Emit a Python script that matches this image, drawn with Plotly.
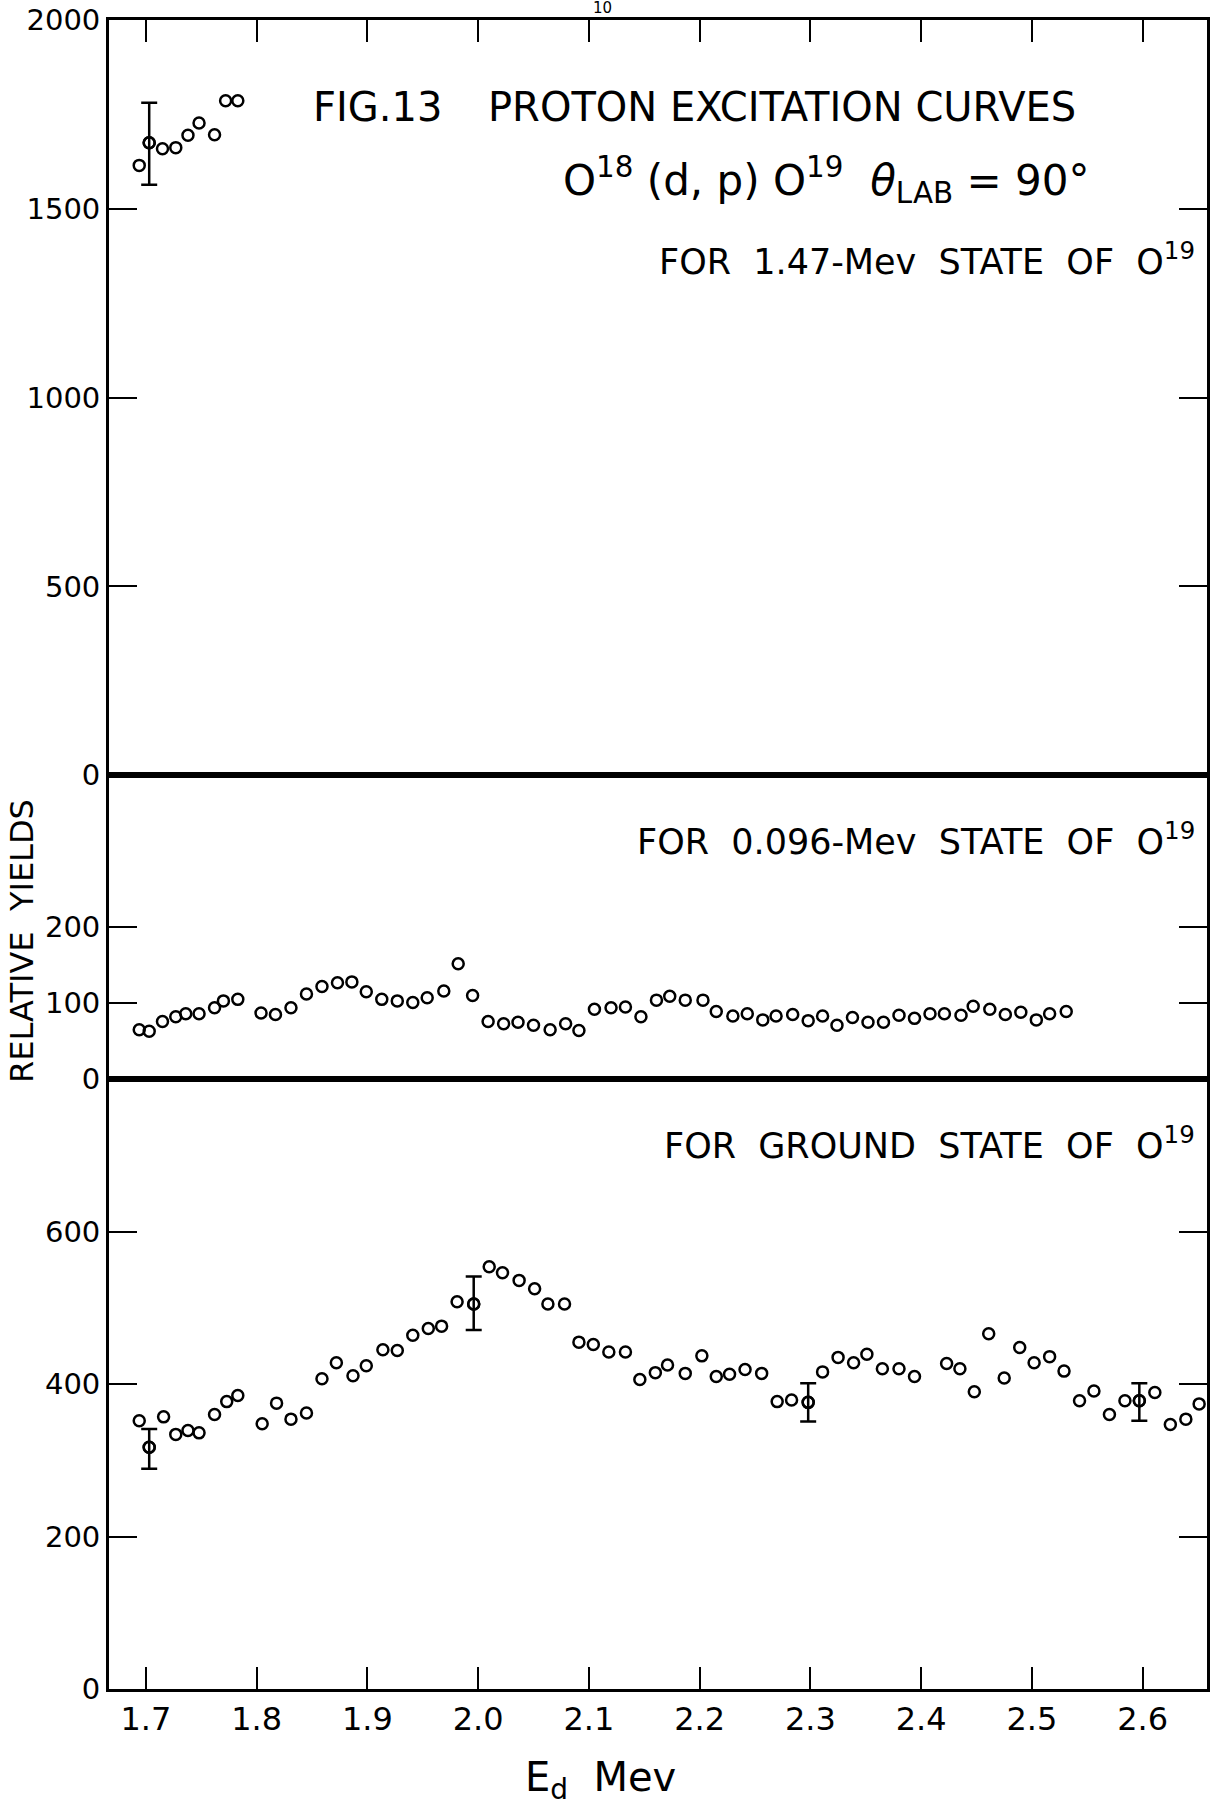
import plotly.graph_objects as go

# ---------------- data ----------------
# Ed in MeV, relative yields
E_147 = [1.694, 1.703, 1.715, 1.727, 1.738, 1.748, 1.762, 1.772, 1.783]
Y_147 = [1615, 1675, 1659, 1662, 1695, 1727, 1696, 1786, 1786]
ERR_E_147 = [1.703]
ERR_Y_147 = [1675]
ERR_HI_147 = [106]
ERR_LO_147 = [111]

E_096 = [1.694, 1.703, 1.715, 1.727, 1.736, 1.748, 1.762, 1.770, 1.783,
         1.804, 1.817, 1.831, 1.845, 1.859, 1.873, 1.886, 1.899, 1.913,
         1.927, 1.941, 1.954, 1.969, 1.982, 1.995, 2.009, 2.023, 2.036,
         2.050, 2.065, 2.079, 2.091, 2.105, 2.120, 2.133, 2.147, 2.161,
         2.173, 2.187, 2.203, 2.215, 2.230, 2.243, 2.257, 2.269, 2.284,
         2.298, 2.311, 2.324, 2.338, 2.352, 2.366, 2.380, 2.394, 2.408,
         2.421, 2.436, 2.447, 2.462, 2.476, 2.490, 2.504, 2.516, 2.531]
Y_096 = [65, 63, 76, 82, 86, 86, 94, 103, 105,
         87, 85, 94, 112, 122, 127, 128, 115, 105,
         103, 101, 107, 116, 152, 110, 76, 73, 75,
         71, 65, 73, 64, 92, 94, 95, 82, 104,
         109, 104, 104, 89, 83, 86, 78, 83, 85,
         77, 83, 71, 81, 75, 75, 84, 80, 86,
         86, 84, 96, 92, 85, 88, 78, 86, 89]

E_GS = [1.694, 1.703, 1.716, 1.727, 1.738, 1.748, 1.762, 1.773, 1.783,
        1.805, 1.818, 1.831, 1.845, 1.859, 1.872, 1.887, 1.899, 1.914,
        1.927, 1.941, 1.955, 1.967, 1.981, 1.996, 2.010, 2.022, 2.037,
        2.051, 2.063, 2.078, 2.091, 2.104, 2.118, 2.133, 2.146, 2.160,
        2.171, 2.187, 2.202, 2.215, 2.227, 2.241, 2.256, 2.270, 2.283,
        2.298, 2.311, 2.325, 2.339, 2.351, 2.365, 2.380, 2.394, 2.423,
        2.435, 2.448, 2.461, 2.475, 2.489, 2.502, 2.516, 2.529, 2.543,
        2.556, 2.570, 2.584, 2.597, 2.611, 2.625, 2.639, 2.651]
Y_GS = [352, 317, 357, 334, 339, 336, 360, 377, 385,
        348, 375, 354, 362, 407, 428, 411, 424, 445,
        444, 464, 473, 476, 508, 505, 554, 546, 536,
        525, 505, 505, 455, 452, 442, 442, 406, 415,
        425, 414, 437, 410, 413, 419, 414, 377, 379,
        376, 416, 435, 428, 439, 420, 420, 410, 427,
        420, 390, 466, 408, 448, 428, 436, 417, 378,
        391, 360, 378, 378, 389, 347, 354, 374]
ERR_E_GS = [1.703, 1.996, 2.298, 2.597]
ERR_Y_GS = [317, 505, 376, 378]
ERR_HI_GS = [24, 36, 25, 23]
ERR_LO_GS = [28, 34, 25, 26]

X_TICKS = [1.7, 1.8, 1.9, 2.0, 2.1, 2.2, 2.3, 2.4, 2.5, 2.6]
X_TICK_TEXT = ["1.7", "1.8", "1.9", "2.0", "2.1", "2.2", "2.3", "2.4", "2.5", "2.6"]
Y_TICKS_147 = [0, 500, 1000, 1500, 2000]
Y_TICKS_096 = [0, 100, 200]
Y_TICKS_GS = [0, 200, 400, 600]

# ---------------- layout geometry ----------------
W, H = 1212, 1806
L, R, T, B = 108.5, 1210.0, 19.6, 1689.0
X_RANGE = [1.6667, 2.6581]
Y_SPLIT1 = 775.0   # top / middle divider (px)
Y_SPLIT2 = 1079.0  # middle / bottom divider (px)


def px(x):
    return (x - L) / (R - L)


def py(y):
    return (B - y) / (B - T)


FONT = "DejaVu Sans"
INK = "black"

marker = dict(symbol="circle-open", size=11, color=INK, line=dict(width=2.5, color=INK))

fig = go.Figure()

fig.add_trace(go.Scatter(x=E_147, y=Y_147, mode="markers", marker=marker,
                         xaxis="x", yaxis="y", showlegend=False))
fig.add_trace(go.Scatter(x=ERR_E_147, y=ERR_Y_147, mode="markers", marker=marker,
                         error_y=dict(type="data", symmetric=False, array=ERR_HI_147,
                                      arrayminus=ERR_LO_147, color=INK, thickness=2.5, width=8),
                         xaxis="x", yaxis="y", showlegend=False))
fig.add_trace(go.Scatter(x=E_096, y=Y_096, mode="markers", marker=marker,
                         xaxis="x2", yaxis="y2", showlegend=False))
fig.add_trace(go.Scatter(x=E_GS, y=Y_GS, mode="markers", marker=marker,
                         xaxis="x3", yaxis="y3", showlegend=False))
fig.add_trace(go.Scatter(x=ERR_E_GS, y=ERR_Y_GS, mode="markers", marker=marker,
                         error_y=dict(type="data", symmetric=False, array=ERR_HI_GS,
                                      arrayminus=ERR_LO_GS, color=INK, thickness=2.5, width=8),
                         xaxis="x3", yaxis="y3", showlegend=False))

axis_common = dict(showgrid=False, zeroline=False, showline=True, linecolor=INK,
                   linewidth=2.8, tickcolor=INK, tickwidth=2.4)

d1 = py(Y_SPLIT1)
d2 = py(Y_SPLIT2)

tick_font = dict(size=29, family=FONT, color=INK)

fig.update_layout(
    width=W, height=H,
    margin=dict(l=L, r=W - R, t=T, b=H - B, pad=0),
    paper_bgcolor="white", plot_bgcolor="white",
    font=dict(family=FONT, color=INK),
    xaxis=dict(**axis_common, domain=[0, 1], anchor="y", side="top", range=X_RANGE,
               tickvals=X_TICKS, ticks="inside", ticklen=22, showticklabels=False,
               mirror=True),
    xaxis2=dict(**axis_common, domain=[0, 1], anchor="y2", matches="x", range=X_RANGE,
                ticks="", showticklabels=False, mirror=True),
    xaxis3=dict(**axis_common, domain=[0, 1], anchor="y3", matches="x", range=X_RANGE,
                side="bottom", tickvals=X_TICKS, ticktext=X_TICK_TEXT, ticks="inside",
                ticklen=22, mirror=True, tickfont=dict(size=32, family=FONT, color=INK)),
    yaxis=dict(**axis_common, domain=[d1, 1], anchor="x", range=[0, 2000],
               tickvals=Y_TICKS_147, ticks="inside", ticklen=28, mirror="ticks",
               tickfont=tick_font),
    yaxis2=dict(**axis_common, domain=[d2, d1], anchor="x2", range=[0, 400],
                tickvals=Y_TICKS_096, ticks="inside", ticklen=28, mirror="ticks",
                tickfont=tick_font),
    yaxis3=dict(**axis_common, domain=[0, d2], anchor="x3", range=[0, 800],
                tickvals=Y_TICKS_GS, ticks="inside", ticklen=28, mirror="ticks",
                tickfont=tick_font),
)


def note(text, x, y, size, xanchor="left", yanchor="middle", angle=0):
    fig.add_annotation(text=text, x=px(x), y=py(y), xref="paper", yref="paper",
                       xanchor=xanchor, yanchor=yanchor, showarrow=False, textangle=angle,
                       font=dict(family=FONT, size=size, color=INK))


note("10", 604, 19, 15, xanchor="center", yanchor="bottom")
note("FIG.13", 311, 107, 40)
note("PROTON EXCITATION CURVES", 487, 107, 40)
note("O<sup>18</sup> (d, p) O<sup>19</sup>  <i>θ</i><sub>LAB</sub> = 90°", 562, 180, 42)
note("FOR  1.47-Mev  STATE  OF  O<sup>19</sup>", 1200, 259, 35, xanchor="right")
note("FOR  0.096-Mev  STATE  OF  O<sup>19</sup>", 1200, 839, 35, xanchor="right")
note("FOR  GROUND  STATE  OF  O<sup>19</sup>", 1200, 1143, 35, xanchor="right")
note("RELATIVE  YIELDS", 21, 941, 32, xanchor="center", angle=-90)
note("E<sub>d</sub>  Mev", 602, 1780, 40, xanchor="center")

fig.write_html("out.html")
